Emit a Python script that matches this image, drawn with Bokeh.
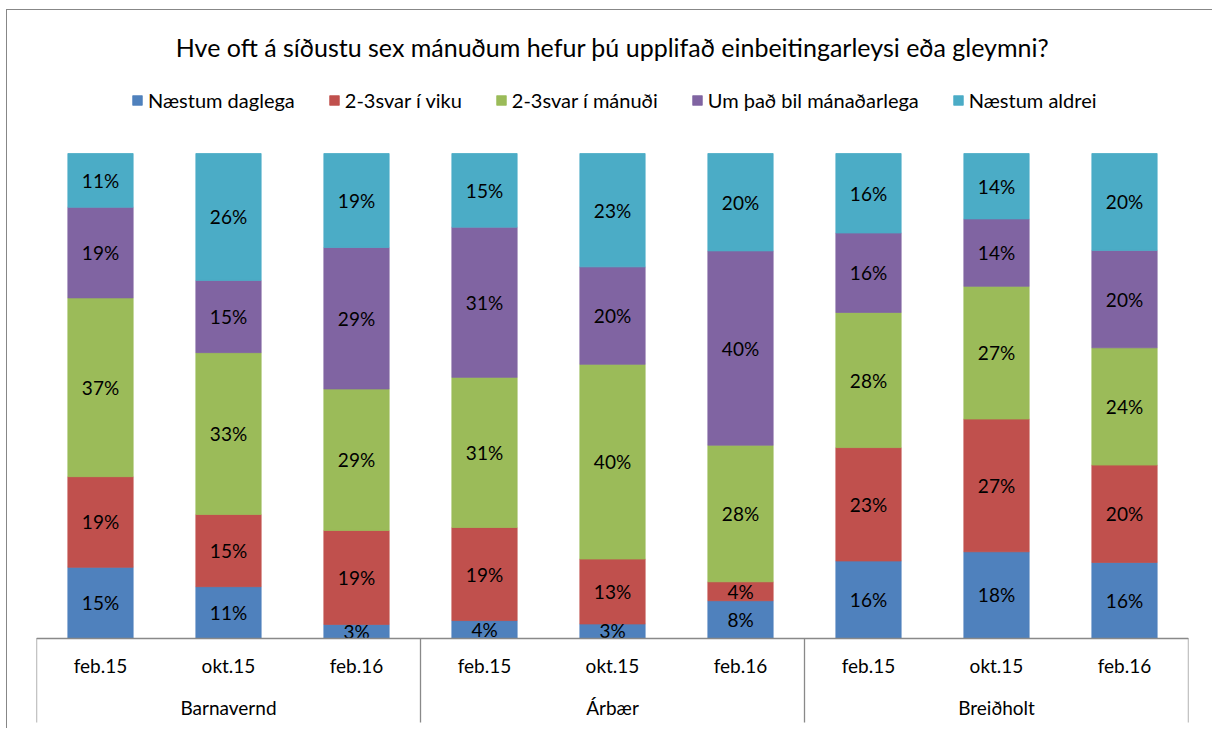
from bokeh.plotting import figure
from bokeh.models import FactorRange, Range1d, Legend, LegendItem, ColumnDataSource
from bokeh.core.properties import value
from bokeh.embed import file_html
from bokeh.resources import INLINE

title_text = "Hve oft á síðustu sex mánuðum hefur þú upplifað einbeitingarleysi eða gleymni?"
groups = ["Barnavernd", "Árbær", "Breiðholt"]
periods = ["feb.15", "okt.15", "feb.16"]
series = ["Næstum daglega", "2-3svar í viku", "2-3svar í mánuði",
          "Um það bil mánaðarlega", "Næstum aldrei"]
colors = ["#4F81BD", "#C0504D", "#9BBB59", "#8064A2", "#4BACC6"]

# percent values, order: Barnavernd (feb.15, okt.15, feb.16), Árbær (...), Breiðholt (...)
naestum_daglega = [14.6, 10.6, 2.8, 3.6, 2.9, 7.7, 15.9, 17.8, 15.6]
svar_viku = [18.7, 14.9, 19.4, 19.2, 13.4, 3.9, 23.4, 27.4, 20.1]
svar_manudi = [36.9, 33.4, 29.2, 31.0, 40.2, 28.2, 27.9, 27.4, 24.2]
manadarlega = [18.7, 14.9, 29.2, 31.0, 20.1, 40.1, 16.4, 13.9, 20.1]
naestum_aldrei = [11.1, 26.2, 19.4, 15.2, 23.4, 20.1, 16.4, 13.5, 20.0]

values = [naestum_daglega, svar_viku, svar_manudi, manadarlega, naestum_aldrei]
keys = ["s0", "s1", "s2", "s3", "s4"]

FONT = "Lato"
factors = [(g, per) for g in groups for per in periods]

data = {"x": factors}
for k, vals in zip(keys, values):
    data[k] = [v / 100 for v in vals]
source = ColumnDataSource(data)

# page geometry: canvas origin at (7, 10) (6/9px margin + 1px css border)
ox, oy = 7, 10
W, H = 1206, 729 - oy
y_zero_px, y_one_px, frame_top_px, frame_bottom_px = 637.5, 153.0, 75.0, 729.0
unit = y_zero_px - y_one_px
y_start = -(frame_bottom_px - y_zero_px) / unit
y_end = 1 + (y_one_px - frame_top_px) / unit
left_b = 36 - ox
frame_w = 1152

p = figure(
    x_range=FactorRange(*factors, range_padding=0, group_padding=0, factor_padding=0,
                        subgroup_padding=0),
    y_range=Range1d(y_start, y_end),
    width=W, height=H,
    output_backend="svg", toolbar_location=None,
    y_axis_location=None,
    min_border_left=left_b, min_border_right=W - left_b - frame_w,
    min_border_top=int(frame_top_px - oy), min_border_bottom=0,
)
p.styles = {"margin-left": "6px", "margin-top": "9px",
            "border-left": "1px solid #878787", "border-top": "1px solid #878787"}
p.outline_line_color = None
p.xgrid.visible = False
p.ygrid.visible = False
p.background_fill_color = "white"
p.border_fill_color = "white"

p.title.text = title_text
p.title.align = "center"
p.title.text_font = FONT
p.title.text_font_size = "25px"
p.title.text_font_style = "normal"
p.title.text_color = "#000000"
p.title.standoff = 27

renderers = p.vbar_stack(keys, x="x", width=0.51, color=colors, line_width=0.8,
                         source=source)

# data labels at segment centres
lx, ly, lt = [], [], []
for j, f in enumerate(factors):
    bottom = 0.0
    for vals in values:
        v = vals[j] / 100
        lx.append(f)
        ly.append(bottom + v / 2)
        lt.append(f"{vals[j]:.0f}%")
        bottom += v
p.text(x=lx, y=ly, text=lt, text_align="center", text_baseline="middle",
       text_font=value(FONT), text_font_size=value("19px"), text_color="#000000")

# category table separators
sep_x = [(groups[0], periods[0], -0.5), (groups[1], periods[0], -0.5),
         (groups[2], periods[0], -0.5), (groups[2], periods[-1], 0.5)]
sep_bottom = -(722 - y_zero_px) / unit
p.segment(x0=sep_x, y0=[0] * 4, x1=sep_x, y1=[sep_bottom] * 4,
          line_color="#898989", line_width=1.3)

ax = p.xaxis[0]
ax.fixed_location = 0
ax.axis_line_color = "#898989"
ax.axis_line_width = 1.3
ax.major_tick_line_color = None
ax.major_tick_in = 0
ax.major_tick_out = 0
ax.minor_tick_line_color = None
ax.separator_line_color = None
ax.major_label_standoff = 16
ax.major_label_text_font = FONT
ax.major_label_text_font_size = "19px"
ax.major_label_text_color = "#000000"
ax.group_text_font = FONT
ax.group_text_font_size = "19px"
ax.group_text_font_style = "normal"
ax.group_text_color = "#000000"

legend = Legend(
    items=[LegendItem(label=s, renderers=[r]) for s, r in zip(series, renderers)],
    orientation="horizontal", location=(95, 617),
    glyph_width=12, glyph_height=12, label_standoff=5, spacing=33,
    padding=0, margin=0, border_line_color=None, background_fill_alpha=0,
    label_text_font=FONT, label_text_font_size="20px", label_text_color="#000000",
)
p.add_layout(legend, "center")

open("out.html", "w").write(file_html(p, INLINE))
